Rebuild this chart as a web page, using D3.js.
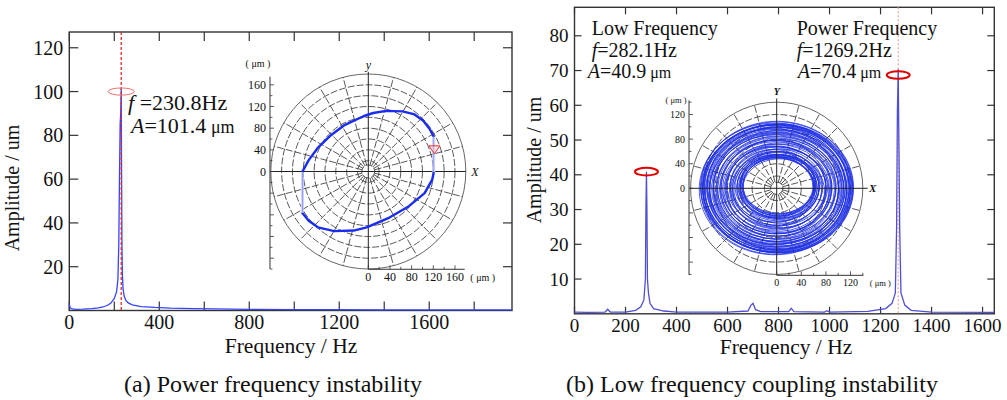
<!DOCTYPE html>
<html><head><meta charset="utf-8">
<script src="https://cdn.jsdelivr.net/npm/d3@7"></script>
<style>
body{margin:0;background:#fff}
svg{display:block}
text{font-family:"Liberation Serif","Times New Roman",serif;fill:#111}
</style>
</head><body>
<svg id="c" width="1007" height="400"></svg>
<script>
// ---------- DATA ----------
// (a) spectrum
const specAFreq = [0, 4, 12, 30, 60, 100, 130, 150, 170, 185, 200, 210, 216, 220, 223, 226, 228.5, 230.8, 232.5, 234, 236, 239, 244, 252, 262, 280, 320, 380, 450, 550, 650, 800, 1000, 1200, 1400, 1700, 1968];
const specAAmp  = [3.0, 1.2, 0.7, 0.5, 0.6, 0.9, 1.2, 1.6, 2.4, 3.4, 5.5, 8.5, 14, 30, 60, 85, 90, 101.4, 62, 30, 16, 10, 6.5, 4.5, 3.5, 2.6, 1.8, 1.4, 1.1, 0.9, 0.7, 0.5, 0.4, 0.4, 0.3, 0.3, 0.3];
const peakA = {f: 230.8, A: 101.4, marker: 100};
const xTicksA = [0, 200, 400, 600, 800, 1000, 1200, 1400, 1600, 1800];
const xLabelsA = [0, 400, 800, 1200, 1600];
const yTicksA = [20, 40, 60, 80, 100, 120];

// (a) orbit (µm)
const orbitAx = [121, 121, 113, 101, 84, 63, 33, 9, -9, -45, -69, -93, -110, -122, -122, -110, -93, -63, -27, -3, 39, 75, 104, 118, 121];
const orbitAy = [-1, 64, 79, 94, 106, 111, 112, 108, 102, 85, 67, 44, 21, -1, -76, -91, -103, -110, -109, -103, -85, -64, -40, -15, -1];
const orbitAMarker = [122, 40];
const polarTicksA = [0, 40, 80, 120, 160];

// (b) spectrum
const specBFreq = [0, 50, 120, 130, 140, 200, 240, 260, 272, 278, 280, 282.1, 284, 286, 290, 296, 310, 350, 400, 600, 680, 692, 700, 710, 730, 840, 850, 860, 980, 990, 1000, 1150, 1220, 1245, 1258, 1263, 1266, 1269.2, 1272, 1275, 1280, 1295, 1320, 1400, 1646];
const specBAmp  = [0.5, 0.4, 0.5, 1.3, 0.5, 0.5, 1.0, 2.0, 4, 10, 30, 40.9, 30, 10, 6, 3, 1.5, 0.8, 0.5, 0.5, 0.8, 2.5, 3, 1.2, 0.6, 0.6, 1.6, 0.6, 0.5, 0.9, 0.5, 0.7, 1.5, 3, 6, 25, 58, 70.4, 49, 25, 6, 2.5, 1, 0.5, 0.4];
const peaksB = [{f: 282.1, A: 40.9, marker: 40.9}, {f: 1269.2, A: 70.4, marker: 68.7}];
const xTicksB = [0, 200, 400, 600, 800, 1000, 1200, 1400, 1600];
const yTicksB = [10, 20, 30, 40, 50, 60, 70, 80];
const polarTicksB = [0, 40, 80, 120];

// (b) orbit loops (µm)
const loopRx  = [57,58,59,60,61,62,63,64,65,66,67,69,70,72,73,75,76,78,79,81,82,84,85,87,88,90,91,93,94,96,97,99,100,102,103,105,106,107,108,109,110,111,112,113,114,115,116,117,118,119,120,121,122,123,124,125,59,61,118,122];
const loopRy  = [45,46,47,48,49,50,51,51,52,53,54,56,57,59,60,62,63,64,65,67,68,70,71,73,74,76,77,78,79,81,82,84,85,87,88,89,90,91,92,93,94,95,96,97,98,99,100,101,102,102,103,104,105,106,107,108,48,48,103,104];
const loopDx  = [2,3,1,4,2,0,3,5,1,-2,2,4,0,-3,1,3,-1,2,4,0,-2,1,3,-1,2,0,-2,1,3,0,-1,2,1,-1,0,1,3,-2,2,0,-3,1,2,-1,0,3,-2,1,0,2,-1,1,-2,0,1,-1,4,1,-2,2];
const loopDy  = [4,2,5,3,1,4,2,0,3,5,1,-1,2,4,0,-2,1,3,-1,2,0,-2,1,-1,0,2,-1,0,1,-2,0,1,-1,0,1,-1,2,0,-2,1,3,-1,0,2,-1,1,0,-2,1,2,-1,0,1,-1,2,0,6,3,1,-1];
const loopRot = [3,-4,6,-2,5,-6,2,-3,7,-5,1,4,-7,3,-1,6,-4,2,-6,5,-2,4,-3,1,-5,3,-1,2,-4,1,-2,3,-1,2,-3,0,5,-4,3,-2,6,-5,2,-1,4,-3,1,-6,3,-2,5,-1,2,-4,1,-3,-8,8,-3,4];

// ---------- DRAW ----------
const svg = d3.select("#c");
const FR = "#333";

function frame(x, y, xt, yt, xl, opts) {
  const g = svg.append("g");
  const [x0, x1] = x.range(), [y0, y1] = y.range();
  g.append("rect").attr("x", x0).attr("y", y1).attr("width", x1 - x0).attr("height", y0 - y1)
    .attr("fill", "none").attr("stroke", FR).attr("stroke-width", 1.4);
  xt.forEach(v => {
    g.append("line").attr("x1", x(v)).attr("x2", x(v)).attr("y1", y0).attr("y2", y0 - opts.tl).attr("stroke", FR).attr("stroke-width", 1.2);
    g.append("line").attr("x1", x(v)).attr("x2", x(v)).attr("y1", y1).attr("y2", y1 + opts.tl).attr("stroke", FR).attr("stroke-width", 1.2);
  });
  xl.forEach(v => {
    g.append("text").attr("x", x(v)).attr("y", y0 + opts.xlb).attr("text-anchor", "middle")
      .attr("font-size", opts.fs).text(v);
  });
  yt.forEach(v => {
    g.append("line").attr("x1", x0).attr("x2", x0 + opts.tl).attr("y1", y(v)).attr("y2", y(v)).attr("stroke", FR).attr("stroke-width", 1.2);
    g.append("line").attr("x1", x1).attr("x2", x1 - opts.tl).attr("y1", y(v)).attr("y2", y(v)).attr("stroke", FR).attr("stroke-width", 1.2);
    g.append("text").attr("x", x0 - 6).attr("y", y(v)).attr("dy", "0.35em").attr("text-anchor", "end")
      .attr("font-size", opts.fs).text(v);
  });
  return g;
}

function polarGrid(cx, cy, k, rings, outer, spokeStart) {
  const g = svg.append("g");
  rings.forEach(r => {
    g.append("circle").attr("cx", cx).attr("cy", cy).attr("r", r * k)
      .attr("fill", "none").attr("stroke", "#3a3a3a").attr("stroke-width", 0.85).attr("stroke-dasharray", "7,2");
  });
  g.append("circle").attr("cx", cx).attr("cy", cy).attr("r", outer * k)
    .attr("fill", "none").attr("stroke", "#555").attr("stroke-width", 0.9);
  d3.range(0, 360, 15).forEach(a => {
    if (a % 90 === 0) return;
    const t = a * Math.PI / 180;
    g.append("line")
      .attr("x1", cx + Math.cos(t) * spokeStart * k).attr("y1", cy - Math.sin(t) * spokeStart * k)
      .attr("x2", cx + Math.cos(t) * outer * k).attr("y2", cy - Math.sin(t) * outer * k)
      .attr("stroke", "#3a3a3a").attr("stroke-width", 0.85).attr("stroke-dasharray", "7,2");
  });
  return g;
}

// ===== (a) =====
const xA = d3.scaleLinear().domain([0, 1968]).range([69.3, 512]);
const yA = d3.scaleLinear().domain([0, 127.2]).range([310.5, 32]);
frame(xA, yA, xTicksA, yTicksA, xLabelsA, {tl: 9, xlb: 18, fs: 20});

// polar inset a
const cxA = 368.3, cyA = 171.5, kA = 0.5417;
const oxA = d3.scaleLinear().domain([0, 1]).range([cxA, cxA + kA]);
const oyA = d3.scaleLinear().domain([0, 1]).range([cyA, cyA - kA]);
polarGrid(cxA, cyA, kA, [12, 20, 40, 60, 80, 100, 120, 140, 160], 180, 12);
{
  const g = svg.append("g");
  g.append("line").attr("x1", oxA(-180)).attr("x2", oxA(180)).attr("y1", oyA(0)).attr("y2", oyA(0)).attr("stroke", "#222").attr("stroke-width", 1);
  g.append("line").attr("x1", oxA(0)).attr("x2", oxA(0)).attr("y1", oyA(184)).attr("y2", oyA(-180)).attr("stroke", "#222").attr("stroke-width", 1);
  const axX = oxA(-181.5);
  g.append("line").attr("x1", axX).attr("x2", axX).attr("y1", oyA(175)).attr("y2", oyA(-180)).attr("stroke", "#333").attr("stroke-width", 1);
  d3.range(-180, 175, 20).forEach(v => {
    g.append("line").attr("x1", axX).attr("x2", axX + (v % 40 === 0 ? 4 : 2.5)).attr("y1", oyA(v)).attr("y2", oyA(v)).attr("stroke", "#333").attr("stroke-width", 0.8);
  });
  polarTicksA.forEach(v => {
    g.append("text").attr("x", axX - 4).attr("y", oyA(v)).attr("dy", "0.35em").attr("text-anchor", "end").attr("font-size", 12).text(v);
  });
  g.append("text").attr("x", axX - 12).attr("y", 67).attr("text-anchor", "middle").attr("font-size", 10).text("( μm )");
  const axY = oyA(-180.5);
  g.append("line").attr("x1", oxA(0)).attr("x2", oxA(178)).attr("y1", axY).attr("y2", axY).attr("stroke", "#333").attr("stroke-width", 1);
  d3.range(0, 178, 20).forEach(v => {
    g.append("line").attr("x1", oxA(v)).attr("x2", oxA(v)).attr("y1", axY).attr("y2", axY - (v % 40 === 0 ? 4 : 2.5)).attr("stroke", "#333").attr("stroke-width", 0.8);
  });
  polarTicksA.forEach(v => {
    g.append("text").attr("x", oxA(v)).attr("y", axY + 12).attr("text-anchor", "middle").attr("font-size", 12).text(v);
  });
  g.append("text").attr("x", oxA(178) + 18).attr("y", axY + 12).attr("text-anchor", "middle").attr("font-size", 10).text("( μm )");
  g.append("text").attr("x", oxA(190)).attr("y", oyA(0)).attr("dy", "0.35em").attr("font-size", 12).attr("font-style", "italic").text("X");
  g.append("text").attr("x", oxA(0)).attr("y", oyA(189)).attr("text-anchor", "middle").attr("font-size", 12).attr("font-style", "italic").text("y");
  const pts = orbitAx.map((v, i) => [v, orbitAy[i]]);
  g.append("path").attr("d", d3.line().x(d => oxA(d[0])).y(d => oyA(d[1])).curve(d3.curveLinear)(pts))
    .attr("fill", "none").attr("stroke", "#1a2cf0").attr("stroke-width", 2.4).attr("stroke-linejoin", "round");
  [[0, 1], [13, 14]].forEach(([a, b]) => {
    g.append("line").attr("x1", oxA(orbitAx[a])).attr("y1", oyA(orbitAy[a])).attr("x2", oxA(orbitAx[b])).attr("y2", oyA(orbitAy[b]))
      .attr("stroke", "#fff").attr("stroke-width", 2.6);
    g.append("line").attr("x1", oxA(orbitAx[a])).attr("y1", oyA(orbitAy[a])).attr("x2", oxA(orbitAx[b])).attr("y2", oyA(orbitAy[b]))
      .attr("stroke", "#6a78f4").attr("stroke-width", 1);
  });
  const mx = oxA(orbitAMarker[0]), my = oyA(orbitAMarker[1]);
  g.append("path").attr("d", `M${mx - 5.5},${my - 4}L${mx + 5.5},${my - 4}L${mx},${my + 4}Z`)
    .attr("fill", "rgba(255,200,200,0.4)").attr("stroke", "#f03030").attr("stroke-width", 1);
}

svg.append("path").datum(specAFreq.map((f, i) => [f, specAAmp[i]]))
  .attr("d", d3.line().x(d => xA(d[0])).y(d => yA(d[1])))
  .attr("fill", "none").attr("stroke", "#3545ff").attr("stroke-width", 1.3);
svg.append("line").attr("x1", xA(peakA.f)).attr("x2", xA(peakA.f)).attr("y1", yA(127.2)).attr("y2", yA(0))
  .attr("stroke", "#e52a2a").attr("stroke-width", 1.3).attr("stroke-dasharray", "3,2");
svg.append("ellipse").attr("cx", xA(peakA.f)).attr("cy", yA(peakA.marker)).attr("rx", 13).attr("ry", 3.6)
  .attr("fill", "none").attr("stroke", "#f07070").attr("stroke-width", 1);
{
  const t1 = svg.append("text").attr("x", 128).attr("y", 110).attr("font-size", 22);
  t1.append("tspan").attr("font-style", "italic").text("f");
  t1.append("tspan").text(" =" + peakA.f + "Hz");
  const t2 = svg.append("text").attr("x", 131).attr("y", 133).attr("font-size", 22);
  t2.append("tspan").attr("font-style", "italic").text("A");
  t2.append("tspan").text("=" + peakA.A);
  t2.append("tspan").attr("font-size", 18).text(" μm");
}
svg.append("text").attr("transform", "translate(19,188) rotate(-90)").attr("text-anchor", "middle").attr("font-size", 20).text("Amplitude / um");
svg.append("text").attr("x", 291).attr("y", 353).attr("text-anchor", "middle").attr("font-size", 21.5).text("Frequency / Hz");
svg.append("text").attr("x", 273).attr("y", 392).attr("text-anchor", "middle").attr("font-size", 24).text("(a) Power frequency instability");

// ===== (b) =====
const xB = d3.scaleLinear().domain([0, 1646]).range([574.5, 994.3]);
const yB = d3.scaleLinear().domain([0, 88.2]).range([313.8, 7.3]);
frame(xB, yB, xTicksB, yTicksB, xTicksB, {tl: 7, xlb: 18, fs: 19});

const cxB = 776.7, cyB = 188.3, kB = 0.615;
const oxB = d3.scaleLinear().domain([0, 1]).range([cxB, cxB + kB]);
const oyB = d3.scaleLinear().domain([0, 1]).range([cyB, cyB - kB]);
polarGrid(cxB, cyB, kB, [10, 20, 40, 60, 80, 100, 120], 140, 10);
{
  const g = svg.append("g");
  loopRx.forEach((rx, i) => {
    g.append("ellipse")
      .attr("cx", oxB(loopDx[i])).attr("cy", oyB(loopDy[i]))
      .attr("rx", oxB(rx) - oxB(0)).attr("ry", oyB(0) - oyB(loopRy[i]))
      .attr("transform", `rotate(${loopRot[i]},${oxB(loopDx[i])},${oyB(loopDy[i])})`)
      .attr("fill", "none").attr("stroke", "#1f30e4").attr("stroke-width", 0.9).attr("stroke-opacity", 0.85);
  });
  g.append("line").attr("x1", oxB(-142)).attr("x2", oxB(148)).attr("y1", oyB(0)).attr("y2", oyB(0)).attr("stroke", "#222").attr("stroke-width", 1);
  g.append("line").attr("x1", oxB(0)).attr("x2", oxB(0)).attr("y1", oyB(146)).attr("y2", oyB(-141)).attr("stroke", "#222").attr("stroke-width", 1);
  const axX = oxB(-142.6);
  g.append("line").attr("x1", axX).attr("x2", axX).attr("y1", oyB(143)).attr("y2", oyB(-141)).attr("stroke", "#333").attr("stroke-width", 1);
  d3.range(-140, 141, 20).forEach(v => {
    g.append("line").attr("x1", axX).attr("x2", axX + (v % 40 === 0 ? 4 : 2.5)).attr("y1", oyB(v)).attr("y2", oyB(v)).attr("stroke", "#333").attr("stroke-width", 0.8);
  });
  polarTicksB.forEach(v => {
    g.append("text").attr("x", axX - 4).attr("y", oyB(v)).attr("dy", "0.35em").attr("text-anchor", "end").attr("font-size", 10).text(v);
  });
  g.append("text").attr("x", axX - 13).attr("y", 103).attr("text-anchor", "middle").attr("font-size", 8.5).text("( μm )");
  const axY = oyB(-141.5);
  g.append("line").attr("x1", oxB(0)).attr("x2", oxB(141)).attr("y1", axY).attr("y2", axY).attr("stroke", "#333").attr("stroke-width", 1);
  d3.range(0, 141, 20).forEach(v => {
    g.append("line").attr("x1", oxB(v)).attr("x2", oxB(v)).attr("y1", axY).attr("y2", axY - (v % 40 === 0 ? 4 : 2.5)).attr("stroke", "#333").attr("stroke-width", 0.8);
  });
  polarTicksB.forEach(v => {
    g.append("text").attr("x", oxB(v)).attr("y", axY + 11).attr("text-anchor", "middle").attr("font-size", 10).text(v);
  });
  g.append("text").attr("x", oxB(141) + 17).attr("y", axY + 11).attr("text-anchor", "middle").attr("font-size", 8.5).text("( μm )");
  g.append("text").attr("x", oxB(150)).attr("y", oyB(0)).attr("dy", "0.35em").attr("font-size", 11).attr("font-style", "italic").attr("font-weight", "bold").text("X");
  g.append("text").attr("x", oxB(0)).attr("y", oyB(151)).attr("text-anchor", "middle").attr("font-size", 10).attr("font-style", "italic").attr("font-weight", "bold").text("Y");
}

svg.append("line").attr("x1", xB(peaksB[1].f)).attr("x2", xB(peaksB[1].f)).attr("y1", yB(88.2)).attr("y2", yB(0))
  .attr("stroke", "#f2a0a0").attr("stroke-width", 1.2).attr("stroke-dasharray", "2,2");
svg.append("path").datum(specBFreq.map((f, i) => [f, specBAmp[i]]))
  .attr("d", d3.line().x(d => xB(d[0])).y(d => yB(d[1])))
  .attr("fill", "none").attr("stroke", "#4f4fd4").attr("stroke-width", 1.3);
peaksB.forEach(p => {
  svg.append("ellipse").attr("cx", xB(p.f)).attr("cy", yB(p.marker)).attr("rx", 11.5).attr("ry", 3.8)
    .attr("fill", "none").attr("stroke", "#e00000").attr("stroke-width", 2);
});
{
  const labels = [["Low Frequency", 591.7, 591.7], ["Power Frequency", 796.7, 801.7]];
  labels.forEach(([name, x, xa], i) => {
    svg.append("text").attr("x", x).attr("y", 35).attr("font-size", 20).text(name);
    const t1 = svg.append("text").attr("x", x).attr("y", 56.5).attr("font-size", 20);
    t1.append("tspan").attr("font-style", "italic").text("f");
    t1.append("tspan").text("=" + peaksB[i].f + "Hz");
    const t2 = svg.append("text").attr("x", xa - 4).attr("y", 78).attr("font-size", 20);
    t2.append("tspan").attr("font-style", "italic").text("A");
    t2.append("tspan").text("=" + peaksB[i].A);
    t2.append("tspan").attr("font-size", 16).text(" μm");
  });
}
svg.append("text").attr("transform", "translate(541,160) rotate(-90)").attr("text-anchor", "middle").attr("font-size", 20).text("Amplitude / um");
svg.append("text").attr("x", 786).attr("y", 354).attr("text-anchor", "middle").attr("font-size", 21.5).text("Frequency / Hz");
svg.append("text").attr("x", 752).attr("y", 392).attr("text-anchor", "middle").attr("font-size", 24).text("(b) Low frequency coupling instability");
</script>
</body></html>
